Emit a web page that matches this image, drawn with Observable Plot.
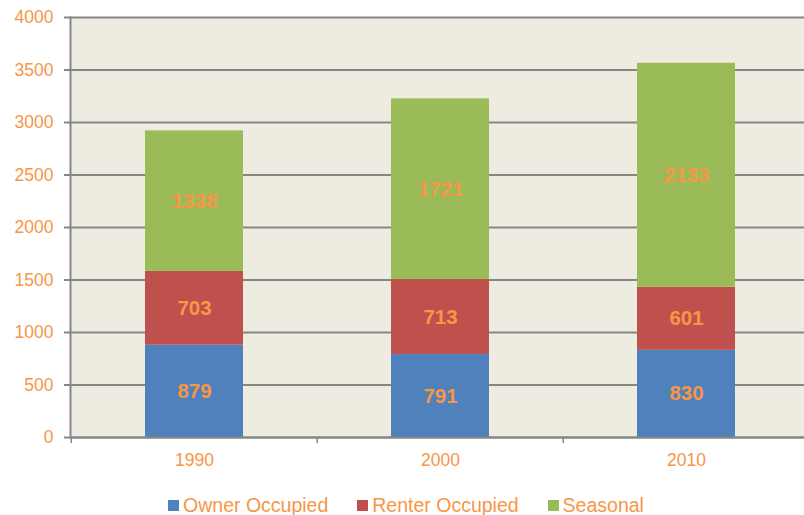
<!DOCTYPE html>
<html><head><meta charset="utf-8">
<script src="https://cdn.jsdelivr.net/npm/d3@7"></script>
<script src="https://cdn.jsdelivr.net/npm/@observablehq/plot@0.6"></script>
<style>
html,body{margin:0;padding:0;background:#fff;}
body{font-family:"Liberation Sans",Arial,sans-serif;width:804px;}
#legend{display:flex;justify-content:center;align-items:center;height:40px;box-sizing:border-box;padding-top:20px;padding-left:8px;font-size:19.5px;color:#F79646;}
#legend .item{display:flex;align-items:center;margin:0 14.5px;line-height:20px;}
#legend .sw{width:11px;height:11px;margin-right:4px;}
</style></head><body>
<div id="chart"></div>
<div id="legend"></div>
<script>
const years = ["1990", "2000", "2010"];
const series = ["Owner Occupied", "Renter Occupied", "Seasonal"];
const ownerOccupied = [879, 791, 830];
const renterOccupied = [703, 713, 601];
const seasonal = [1338, 1721, 2133];
const colors = ["#4F81BD", "#C0504D", "#9BBB59"];
const yTicks = [0, 500, 1000, 1500, 2000, 2500, 3000, 3500, 4000];

const seriesValues = [ownerOccupied, renterOccupied, seasonal];
const data = [];
series.forEach((s, si) => years.forEach((y, yi) => data.push({year: y, series: s, value: seriesValues[si][yi]})));

const orange = "#F79646";
const gray = "#868686";
const xRange = [70, 809.5];
const step = (xRange[1] - xRange[0]) / 3;

const chart = Plot.plot({
  width: 804,
  height: 475,
  marginLeft: 70,
  marginRight: 0,
  marginTop: 17,
  marginBottom: 38,
  style: {fontFamily: '"Liberation Sans", Arial, sans-serif', background: "#fff", overflow: "hidden"},
  x: {type: "band", domain: years, range: xRange, paddingInner: 0.6, paddingOuter: 0.3, label: null},
  y: {domain: [0, 4000], label: null},
  color: {domain: series, range: colors},
  marks: [
    Plot.frame({fill: "#EEECE1", stroke: null}),
    Plot.ruleY(yTicks, {stroke: gray, strokeWidth: 2}),
    Plot.barY(data, {x: "year", y: "value", fill: "series", order: series}),
    Plot.text(data, Plot.stackY({x: "year", y: "value", z: "series", order: series, text: d => String(d.value), fill: orange, fontSize: 20.5, fontWeight: "bold"})),
    Plot.ruleY([0], {stroke: gray, strokeWidth: 2}),
    Plot.frame({anchor: "left", stroke: gray, strokeWidth: 2}),
    Plot.ruleX(years, {x: d => d, y1: 0, y2: 0, insetBottom: -6, dx: -step / 2, stroke: gray, strokeWidth: 1.5}),
    Plot.axisY({ticks: yTicks, tickSize: 6, tickPadding: 11, stroke: gray, strokeWidth: 2, fill: orange, fontSize: 17.5, tickFormat: d => String(d), label: null}),
    Plot.axisX({tickSize: 0, tickPadding: 16, fill: orange, fontSize: 17.5, label: null})
  ]
});
document.getElementById("chart").appendChild(chart);

const legend = document.getElementById("legend");
series.forEach((s, i) => {
  const it = document.createElement("div");
  it.className = "item";
  const sw = document.createElement("span");
  sw.className = "sw";
  sw.style.background = colors[i];
  const t = document.createElement("span");
  t.textContent = s;
  it.appendChild(sw);
  it.appendChild(t);
  legend.appendChild(it);
});
</script>
</body></html>
